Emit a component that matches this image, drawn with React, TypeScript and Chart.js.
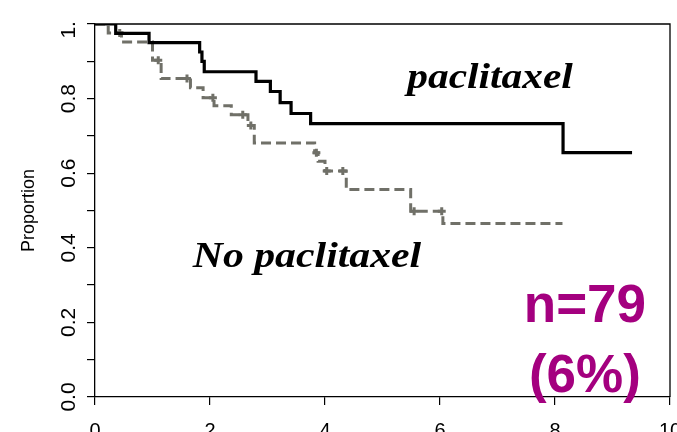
import React, { useEffect, useRef } from 'react';
import { Chart, registerables } from 'chart.js';

Chart.register(...registerables);

// Kaplan-Meier step data (time in units of the x axis, survival proportion)
const paclitaxelTimes = [0, 0.36, 0.94, 1.82, 1.86, 1.9, 2.8, 3.05, 3.22, 3.41, 3.75, 8.14, 9.34];
const paclitaxelSurv = [1.0, 0.975, 0.95, 0.925, 0.9, 0.872, 0.846, 0.819, 0.789, 0.76, 0.733, 0.655, 0.655];

const noPacTimes = [0, 0.23, 0.46, 1.0, 1.15, 1.66, 1.88, 2.07, 2.37, 2.66, 2.77, 3.82, 3.88, 4.0, 4.37, 5.49, 6.05, 8.13];
const noPacSurv = [1.0, 0.976, 0.952, 0.903, 0.854, 0.829, 0.802, 0.781, 0.757, 0.728, 0.681, 0.655, 0.632, 0.606, 0.556, 0.498, 0.465, 0.465];

const noPacCensorTimes = [0.43, 1.1, 1.6, 2.05, 2.57, 2.71, 3.85, 4.03, 4.31, 5.55, 6.03];
const noPacCensorSurv = [0.976, 0.903, 0.854, 0.802, 0.757, 0.728, 0.655, 0.606, 0.606, 0.498, 0.498];

const xTickValues = [0, 2, 4, 6, 8, 10];
const yLabelValues = [0, 0.2, 0.4, 0.6, 0.8, 1.0];
const yLabelTexts = ['0.0', '0.2', '0.4', '0.6', '0.8', '1.0'];
const yAxisTitle = 'Proportion';

const annotationTexts = ['paclitaxel', 'No paclitaxel', 'n=79', '(6%)'];
const annotationX = [5.43, 1.7, 8.52, 8.52];
const annotationY = [0.828, 0.348, 0.201, 0.0134];
const annotationAlign: CanvasTextAlign[] = ['left', 'left', 'center', 'center'];
const annotationStretch = [1.15, 1.16, 1, 1];
const annotationFont = [
  'bold italic 36px "Liberation Serif", "Times New Roman", serif',
  'bold italic 36px "Liberation Serif", "Times New Roman", serif',
  'bold 53px "Liberation Sans", Arial, sans-serif',
  'bold 53px "Liberation Sans", Arial, sans-serif',
];
const annotationColor = ['#000000', '#000000', '#a4007f', '#a4007f'];

const GRAY = '#707068';

const boxAndTextPlugin = {
  id: 'boxAndText',
  afterDraw(chart: any) {
    const { ctx, chartArea, scales } = chart;
    const xs = scales.x;
    const ys = scales.y;
    ctx.save();
    // frame (top and right sides of the box)
    ctx.strokeStyle = '#000';
    ctx.lineWidth = 1.3;
    ctx.beginPath();
    ctx.moveTo(chartArea.left, chartArea.top);
    ctx.lineTo(chartArea.right, chartArea.top);
    ctx.lineTo(chartArea.right, chartArea.bottom);
    ctx.stroke();
    ctx.restore();

    // y tick labels, rotated, clipped at the top like the reference
    ctx.save();
    ctx.beginPath();
    ctx.rect(0, chartArea.top - 3, chartArea.left, chart.height);
    ctx.clip();
    ctx.font = '21px "Liberation Sans", Arial, sans-serif';
    ctx.fillStyle = '#000';
    ctx.textAlign = 'center';
    ctx.textBaseline = 'middle';
    yLabelValues.forEach((v, i) => {
      const py = ys.getPixelForValue(v);
      ctx.save();
      ctx.translate(69.5, py);
      ctx.rotate(-Math.PI / 2);
      ctx.fillText(yLabelTexts[i], 0, 0);
      ctx.restore();
    });
    ctx.restore();

    // annotations
    annotationTexts.forEach((t, i) => {
      ctx.save();
      ctx.textBaseline = 'alphabetic';
      ctx.font = annotationFont[i];
      ctx.fillStyle = annotationColor[i];
      ctx.textAlign = annotationAlign[i];
      ctx.translate(xs.getPixelForValue(annotationX[i]), ys.getPixelForValue(annotationY[i]));
      ctx.scale(annotationStretch[i], 1);
      ctx.fillText(t, 0, 0);
      ctx.restore();
    });
  },
};

export default function App() {
  const canvasRef = useRef<HTMLCanvasElement | null>(null);

  useEffect(() => {
    const canvas = canvasRef.current;
    if (!canvas) return;
    const chart = new Chart(canvas, {
      type: 'line',
      data: {
        datasets: [
          {
            label: 'paclitaxel',
            data: paclitaxelTimes.map((t, i) => ({ x: t, y: paclitaxelSurv[i] })),
            borderColor: '#000',
            borderWidth: 3.2,
            stepped: 'before',
            pointRadius: 0,
            fill: false,
          },
          {
            label: 'No paclitaxel',
            data: noPacTimes.map((t, i) => ({ x: t, y: noPacSurv[i] })),
            borderColor: GRAY,
            borderWidth: 3,
            borderDash: [10, 5],
            stepped: 'before',
            pointRadius: 0,
            fill: false,
          },
          {
            label: 'censored',
            data: noPacCensorTimes.map((t, i) => ({ x: t, y: noPacCensorSurv[i] })),
            showLine: false,
            pointStyle: 'cross',
            pointRadius: 4,
            pointBorderWidth: 3,
            pointBorderColor: GRAY,
            pointBackgroundColor: GRAY,
          },
        ],
      },
      options: {
        responsive: false,
        devicePixelRatio: 1,
        animation: false,
        layout: { padding: { top: 24, right: 6, left: 0, bottom: 0 } },
        plugins: { legend: { display: false }, tooltip: { enabled: false } },
        scales: {
          x: {
            type: 'linear',
            min: 0,
            max: 10,
            afterBuildTicks: (scale: any) => {
              scale.ticks = xTickValues.map((v) => ({ value: v }));
            },
            afterFit: (scale: any) => {
              scale.height = 35;
              scale.paddingLeft = 0;
              scale.paddingRight = 0;
            },
            ticks: {
              color: '#000',
              font: { family: '"Liberation Sans", Arial, sans-serif', size: 20 },
              padding: 14,
              maxRotation: 0,
              autoSkip: false,
            },
            grid: { drawOnChartArea: false, drawTicks: true, tickLength: 8, color: '#000', lineWidth: 1.2 },
            border: { display: true, color: '#000', width: 1.3 },
          },
          y: {
            type: 'linear',
            min: 0,
            max: 1,
            ticks: { stepSize: 0.1, display: false },
            afterFit: (scale: any) => {
              scale.width = 95;
              scale.paddingTop = 0;
              scale.paddingBottom = 0;
            },
            title: {
              display: true,
              text: yAxisTitle,
              color: '#000',
              font: { family: '"Liberation Sans", Arial, sans-serif', size: 18 },
              padding: { top: 18, bottom: 0 },
            },
            grid: { drawOnChartArea: false, drawTicks: true, tickLength: 8, color: '#000', lineWidth: 1.2 },
            border: { display: true, color: '#000', width: 1.3 },
          },
        },
      },
      plugins: [boxAndTextPlugin],
    });
    return () => chart.destroy();
  }, []);

  return (
    <div style={{ position: 'absolute', left: 0, top: 0, width: 677, height: 432, background: '#fff' }}>
      <canvas ref={canvasRef} width={677} height={432} style={{ display: 'block' }} />
    </div>
  );
}
